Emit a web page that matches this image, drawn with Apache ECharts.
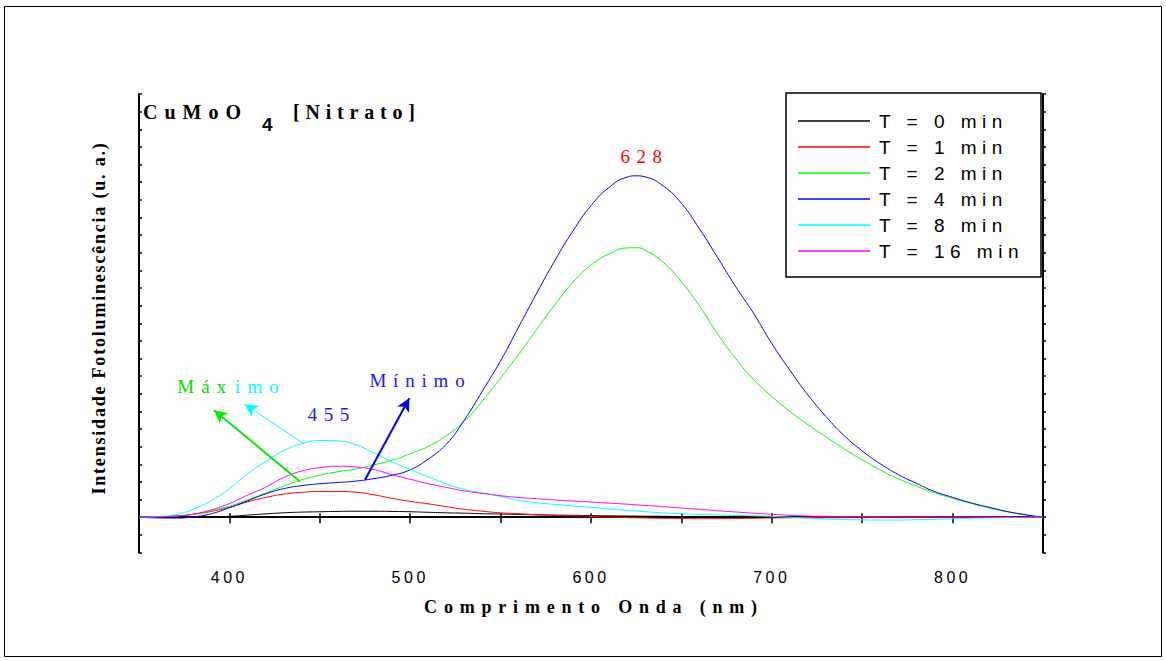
<!DOCTYPE html>
<html>
<head>
<meta charset="utf-8">
<script src="https://cdn.jsdelivr.net/npm/echarts@6/dist/echarts.min.js"></script>
<style>
  html, body { margin: 0; padding: 0; background: #fff; }
  #chart { width: 1166px; height: 661px; }
</style>
</head>
<body>
<div id="chart"></div>
<script>
// Emission wavelength grid (nm); an extra sample sits on the main peak
const wavelengths = [350, 360, 370, 380, 390, 400, 410, 420, 430, 440,
  450, 460, 470, 480, 490, 500, 510, 520, 530, 540,
  550, 560, 570, 580, 590, 600, 610, 620, 625, 630, 640,
  650, 660, 670, 680, 690, 700, 710, 720, 730, 740,
  750, 760, 770, 780, 790, 800, 810, 820, 830, 840, 850];

// Photoluminescence intensity (arbitrary units) for each treatment time
const t0 = [0, 0, 0, 0, 0.01, 0.05, 0.12, 0.19, 0.25, 0.29,
  0.31, 0.33, 0.34, 0.34, 0.33, 0.31, 0.28, 0.25, 0.23, 0.2,
  0.18, 0.16, 0.14, 0.12, 0.11, 0.09, 0.08, 0.07, 0.065, 0.06, 0.05,
  0.04, 0.03, 0.02, 0.01, 0, -0.01, -0.01, -0.02, -0.02, -0.02,
  -0.02, -0.01, -0.01, 0, 0, 0, 0, 0, 0, 0, 0];
const t1 = [0, 0.02, 0.06, 0.16, 0.33, 0.56, 0.87, 1.12, 1.31, 1.41,
  1.46, 1.46, 1.42, 1.27, 1.07, 0.9, 0.76, 0.6, 0.45, 0.34,
  0.25, 0.2, 0.14, 0.1, 0.07, 0.04, 0.01, -0.02, -0.03, -0.04, -0.06,
  -0.07, -0.08, -0.08, -0.07, -0.06, -0.04, -0.03, -0.02, -0.01, 0,
  0, 0, 0, 0, 0, 0, 0, 0, 0, 0, 0];
const t2 = [0, 0.02, 0.07, 0.17, 0.37, 0.63, 0.98, 1.37, 1.76, 2.12,
  2.38, 2.58, 2.74, 2.97, 3.23, 3.6, 4.02, 4.63, 5.45, 6.6,
  7.9, 9.24, 10.65, 12.05, 13.32, 14.3, 14.93, 15.27, 15.28, 15.14, 14.45,
  13.35, 11.98, 10.4, 9.0, 7.8, 6.85, 6.0, 5.25, 4.55, 3.88,
  3.25, 2.68, 2.18, 1.76, 1.39, 1.07, 0.79, 0.53, 0.31, 0.13, 0];
const t4 = [0, -0.04, -0.05, 0.02, 0.2, 0.54, 0.93, 1.32, 1.62, 1.79,
  1.9, 1.97, 2.05, 2.19, 2.38, 2.69, 3.3, 4.15, 5.52, 7.17,
  8.87, 10.79, 12.71, 14.55, 16.23, 17.67, 18.7, 19.29, 19.36, 19.3, 18.78,
  17.8, 16.35, 14.73, 13.08, 11.55, 9.85, 8.34, 6.93, 5.71, 4.63,
  3.76, 3.03, 2.42, 1.92, 1.46, 1.13, 0.82, 0.57, 0.33, 0.15, 0];
const t8 = [0, 0.04, 0.14, 0.46, 0.94, 1.62, 2.45, 3.16, 3.77, 4.17,
  4.35, 4.33, 4.1, 3.65, 3.14, 2.7, 2.29, 1.89, 1.58, 1.38,
  1.18, 0.96, 0.82, 0.73, 0.64, 0.56, 0.47, 0.39, 0.35, 0.31, 0.25,
  0.2, 0.16, 0.13, 0.1, 0.08, 0.05, 0, -0.05, -0.1, -0.13,
  -0.15, -0.16, -0.16, -0.14, -0.12, -0.09, -0.06, -0.04, -0.02, -0.01, 0];
const t16 = [0, 0.02, 0.07, 0.18, 0.42, 0.77, 1.25, 1.7, 2.25, 2.62,
  2.81, 2.89, 2.85, 2.7, 2.41, 2.15, 1.9, 1.69, 1.49, 1.35,
  1.22, 1.12, 1.05, 0.98, 0.92, 0.86, 0.8, 0.74, 0.7, 0.67, 0.6,
  0.52, 0.45, 0.37, 0.3, 0.23, 0.17, 0.11, 0.07, 0.05, 0.04,
  0.03, 0.03, 0.03, 0.02, 0.02, 0.02, 0.01, 0.01, 0.01, 0, 0];

const seriesNames = ['T = 0 min', 'T = 1 min', 'T = 2 min', 'T = 4 min', 'T = 8 min', 'T = 16 min'];
const seriesColors = ['#000000', '#ff0000', '#00ff00', '#0000ff', '#00ffff', '#ff00ff'];
const curves = [t0, t1, t2, t4, t8, t16];

// Peak labels and arrows (data coordinates: nm, intensity)
const peakLabels = [
  { text: '628', at: [628, 20.45], color: '#ff0000' },
  { text: '455', at: [455, 5.8], color: '#1a1aff' }
];
const arrows = [
  { from: [439, 2.03], to: [391.5, 6.07], color: '#00ee00', width: 2 },
  { from: [441, 4.18], to: [408.5, 6.41], color: '#00ffff', width: 1 },
  { from: [475, 2.12], to: [499.5, 6.75], color: '#0000ff', width: 2 }
];

const serif = "'Liberation Serif', 'Times New Roman', serif";
const sans = "'Liberation Sans', Arial, sans-serif";

// Wide character spacing used by the plot's typography (px per glyph)
const tracking = {
  'CuMoO': 7, '[Nitrato]': 5.8, 'Comprimento Onda (nm)': 6.8,
  'Intensidade Fotoluminescência (u. a.)': 1.8,
  '628': 6.5, '455': 6.5, 'Mínimo': 6.8, 'Máx': 7, 'imo': 7
};
const legendTracking = 5.5;
const tickTracking = 3.5;

const chart = echarts.init(document.getElementById('chart'), null, { renderer: 'svg' });

const series = curves.map((vals, i) => ({
  name: seriesNames[i],
  type: 'line',
  symbol: 'none',
  smooth: 0.5,
  animation: false,
  emphasis: { disabled: true },
  lineStyle: { color: seriesColors[i], width: 1 },
  itemStyle: { color: seriesColors[i] },
  data: wavelengths.map((w, j) => [w, vals[j]])
}));

series[4].markLine = {
  silent: true,
  animation: false,
  symbol: ['none', 'arrow'],
  symbolSize: [10, 13],
  label: { show: false },
  emphasis: { disabled: true },
  data: arrows.map(a => [
    { coord: a.from, lineStyle: { color: a.color, width: a.width, type: 'solid' }, itemStyle: { color: a.color } },
    { coord: a.to }
  ])
};

const xCommon = {
  type: 'value', min: 350, max: 850, interval: 50,
  axisLine: { lineStyle: { color: '#000', width: 2 } },
  splitLine: { show: false }
};
const yCommon = {
  type: 'value', min: -2, max: 24, interval: 1,
  axisLine: { lineStyle: { color: '#000', width: 2 } },
  axisLabel: { show: false },
  splitLine: { show: false }
};

chart.setOption({
  animation: false,
  backgroundColor: '#fff',
  grid: { left: 139, right: 123, top: 94, bottom: 108.5, containLabel: false },
  xAxis: [
    Object.assign({}, xCommon, {
      position: 'bottom',
      axisTick: { inside: false, length: 6, lineStyle: { color: '#000', width: 1.5 } },
      axisLabel: {
        margin: 17, color: '#000', fontSize: 16, fontFamily: sans,
        formatter: v => (v % 100 === 0 ? String(v) : '')
      }
    }),
    Object.assign({}, xCommon, {
      position: 'top',
      axisTick: { inside: false, length: 4, lineStyle: { color: '#000', width: 1.5 } },
      axisLabel: { show: false }
    })
  ],
  yAxis: [
    Object.assign({}, yCommon, {
      position: 'left',
      axisTick: { inside: true, length: 3, lineStyle: { color: '#000', width: 1.5 } }
    }),
    Object.assign({}, yCommon, {
      position: 'right',
      axisTick: { inside: false, length: 3, lineStyle: { color: '#000', width: 1.5 } }
    })
  ],
  legend: {
    orient: 'vertical',
    left: 798, top: 111,
    icon: 'rect',
    itemWidth: 72, itemHeight: 1.5, itemGap: 6,
    padding: 0,
    selectedMode: false,
    textStyle: { color: '#000', fontSize: 19, fontFamily: sans, lineHeight: 20, padding: [0, 0, 0, 4] },
    data: seriesNames
  },
  series: series
});

// Text placed from the data scale once the axes exist
const px = p => chart.convertToPixel({ gridIndex: 0 }, p);
const labelGraphics = peakLabels.map(l => {
  const p = px(l.at);
  return {
    type: 'text', x: p[0] + 3, y: p[1], z: 50,
    style: { text: l.text, fill: l.color, font: '19px ' + serif, align: 'center', verticalAlign: 'middle' }
  };
});
const pMin = px([504, 7.73]);
const pMax = px([401.5, 7.4]);

chart.setOption({
  graphic: [
    // page frame
    { type: 'rect', shape: { x: 4.5, y: 6.5, width: 1157, height: 650 },
      style: { fill: 'none', stroke: '#000', lineWidth: 1 }, z: 1 },
    // legend frame
    { type: 'rect', shape: { x: 786, y: 93, width: 255, height: 184 },
      style: { fill: '#fff', stroke: '#000', lineWidth: 1.5 }, z: -1 },
    // sample title: formula with subscript, then precursor
    { type: 'text', x: 143, y: 112, z: 50,
      style: { text: 'CuMoO', font: 'bold 20px ' + serif, fill: '#000', align: 'left', verticalAlign: 'middle' } },
    { type: 'text', x: 262, y: 124, z: 50,
      style: { text: '4', font: 'bold 19px ' + sans, fill: '#000', align: 'left', verticalAlign: 'middle' } },
    { type: 'text', x: 293, y: 112, z: 50,
      style: { text: '[Nitrato]', font: 'bold 20px ' + serif, fill: '#000', align: 'left', verticalAlign: 'middle' } },
    // axis titles
    { type: 'text', x: 594, y: 607, z: 50,
      style: { text: 'Comprimento Onda (nm)', font: 'bold 18px ' + serif, fill: '#000', align: 'center', verticalAlign: 'middle' } },
    { type: 'text', x: 99, y: 318, rotation: Math.PI / 2, z: 50,
      style: { text: 'Intensidade Fotoluminescência (u. a.)', font: 'bold 18px ' + serif, fill: '#000', align: 'center', verticalAlign: 'middle' } },
    // annotations
    { type: 'text', x: pMin[0] + 3, y: pMin[1], z: 50,
      style: { text: 'Mínimo', font: '19px ' + serif, fill: '#1a1aff', align: 'center', verticalAlign: 'middle' } },
    { type: 'text', x: pMax[0] + 1, y: pMax[1], z: 50,
      style: { text: 'Máx', font: '19px ' + serif, fill: '#00e000', align: 'right', verticalAlign: 'middle' } },
    { type: 'text', x: pMax[0] + 3, y: pMax[1], z: 50,
      style: { text: 'imo', font: '19px ' + serif, fill: '#00ffff', align: 'left', verticalAlign: 'middle' } }
  ].concat(labelGraphics)
});

// Spread the glyphs of each drawn text the way the plot's typography does
chart.getDom().querySelectorAll('svg text').forEach(t => {
  const s = t.textContent;
  let sp = 0;
  if (tracking[s] !== undefined) sp = tracking[s];
  else if (seriesNames.indexOf(s) >= 0) sp = legendTracking;
  else if (/^\d+$/.test(s)) sp = tickTracking;
  if (sp) t.style.letterSpacing = sp + 'px';
});
</script>
</body>
</html>
